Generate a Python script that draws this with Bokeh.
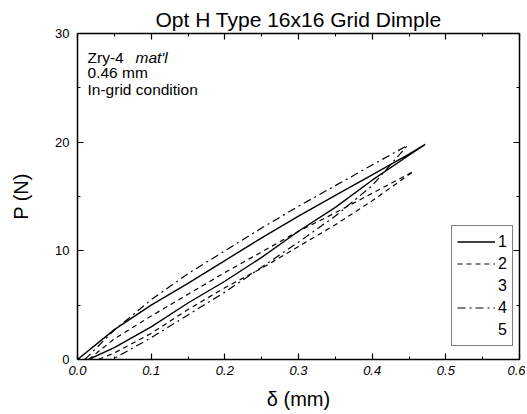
from bokeh.plotting import figure
from bokeh.models import (Range1d, LinearAxis, FixedTicker, PrintfTickFormatter,
                          CustomJSTickFormatter, Legend, LegendItem, Label)
from bokeh.embed import file_html
from bokeh.resources import INLINE

# ---- data ----
s1_x_up = [0.0, 0.05, 0.1, 0.15, 0.2, 0.25, 0.3, 0.35, 0.4, 0.45, 0.472]
s1_p_up = [0.0, 2.75, 5.0, 7.0, 9.1, 11.2, 13.2, 15.1, 17.0, 18.9, 19.8]
s1_x_dn = [0.472, 0.45, 0.4, 0.35, 0.3, 0.25, 0.2, 0.15, 0.1, 0.05, 0.015]
s1_p_dn = [19.8, 18.8, 16.5, 14.0, 11.8, 9.4, 7.2, 5.2, 3.0, 1.1, 0.0]

s2_x_up = [0.015, 0.05, 0.1, 0.15, 0.2, 0.25, 0.3, 0.35, 0.4, 0.456]
s2_p_up = [0.0, 1.9, 4.0, 6.0, 8.0, 9.9, 11.8, 13.5, 15.3, 17.3]
s2_x_dn = [0.456, 0.4, 0.35, 0.3, 0.25, 0.2, 0.15, 0.1, 0.05, 0.028]
s2_p_dn = [17.3, 14.6, 12.4, 10.4, 8.4, 6.6, 4.6, 2.4, 0.6, 0.0]

s4_x_up = [0.01, 0.05, 0.1, 0.15, 0.2, 0.25, 0.3, 0.35, 0.4, 0.448]
s4_p_up = [0.0, 2.7, 5.5, 7.9, 10.0, 12.1, 14.1, 16.0, 17.9, 19.7]
s4_x_dn = [0.448, 0.4, 0.35, 0.3, 0.25, 0.2, 0.15, 0.1, 0.047]
s4_p_dn = [19.7, 16.0, 13.2, 10.8, 8.5, 6.2, 4.1, 2.0, 0.0]

legend_labels = ["1", "2", "3", "4", "5"]
x_major_ticks = [0.0, 0.1, 0.2, 0.3, 0.4, 0.5, 0.6]
x_minor_ticks = [0.05, 0.15, 0.25, 0.35, 0.45, 0.55]
y_major_ticks = [0, 10, 20, 30]
y_minor_ticks = [5, 15, 25]

FONT = "Liberation Sans"

p = figure(width=525, height=412, x_range=Range1d(0, 0.6), y_range=Range1d(0, 30),
           output_backend="svg", toolbar_location=None,
           min_border_left=77, min_border_right=6, min_border_top=33, min_border_bottom=53,
           title="Opt H Type 16x16 Grid Dimple")
p.grid.visible = False
p.outline_line_color = None
p.background_fill_color = "white"
p.border_fill_color = "white"

p.title.align = "center"
p.title.text_font = FONT
p.title.text_font_size = "21px"
p.title.text_font_style = "normal"
p.title.text_color = "black"
p.title.standoff = 6

def style_axis(ax):
    ax.axis_line_color = "black"
    ax.axis_line_width = 1.5
    ax.major_tick_line_color = "black"
    ax.minor_tick_line_color = "black"
    ax.major_tick_line_width = 1.2
    ax.minor_tick_line_width = 1.0
    ax.major_tick_in = 6
    ax.major_tick_out = 0
    ax.minor_tick_in = 3
    ax.minor_tick_out = 0
    ax.major_label_text_font = FONT
    ax.major_label_text_font_size = "13px"
    ax.major_label_text_color = "black"
    ax.axis_label_text_font = FONT
    ax.axis_label_text_font_style = "normal"
    ax.axis_label_text_font_size = "20px"
    ax.axis_label_text_color = "black"

def xticker():
    return FixedTicker(ticks=x_major_ticks, minor_ticks=x_minor_ticks)

def yticker():
    return FixedTicker(ticks=y_major_ticks, minor_ticks=y_minor_ticks)

xa = p.xaxis[0]
xa.ticker = xticker()
xa.formatter = PrintfTickFormatter(format="%.1f")
xa.axis_label = "δ (mm)"
style_axis(xa)
xa.major_label_text_font_style = "italic"
xa.major_label_standoff = 6
xa.axis_label_standoff = 10

ya = p.yaxis[0]
ya.ticker = yticker()
ya.axis_label = "P (N)"
style_axis(ya)
ya.major_label_standoff = 8
ya.axis_label_standoff = 20

blank = CustomJSTickFormatter(code="return ''")

top = LinearAxis(ticker=xticker(), formatter=blank)
style_axis(top)
top.major_label_standoff = 0
p.add_layout(top, "above")

right = LinearAxis(ticker=yticker(), formatter=blank)
style_axis(right)
right.major_label_standoff = 0
p.add_layout(right, "right")

r1 = p.line(s1_x_up + s1_x_dn, s1_p_up + s1_p_dn, line_color="black", line_width=1.4)
r2 = p.line(s2_x_up + s2_x_dn, s2_p_up + s2_p_dn, line_color="black", line_width=1.2,
            line_dash="5 4")
r3 = p.line([], [], line_color="black", line_alpha=0)
r4 = p.line(s4_x_up + s4_x_dn, s4_p_up + s4_p_dn, line_color="black", line_width=1.2,
            line_dash="8 4 2 4")
r5 = p.line([], [], line_color="black", line_alpha=0)

legend = Legend(items=[LegendItem(label=l, renderers=[r]) for l, r in
                       zip(legend_labels, [r1, r2, r3, r4, r5])],
                location=(374, 13))
legend.border_line_color = "black"
legend.border_line_width = 1.2
legend.padding = 5
legend.spacing = 1
legend.margin = 0
legend.glyph_width = 38
legend.glyph_height = 21
legend.label_height = 21
legend.label_width = 8
legend.label_standoff = 3
legend.label_text_font = FONT
legend.label_text_font_size = "16px"
legend.label_text_color = "black"
legend.background_fill_alpha = 1
p.add_layout(legend)

ann_font = "15.5px"
p.add_layout(Label(x=0.0136, y=27.0, text="Zry-4", text_font=FONT, text_font_size=ann_font,
                   text_color="black"))
p.add_layout(Label(x=0.0787, y=27.0, text="mat'l", text_font=FONT, text_font_size=ann_font,
                   text_font_style="italic", text_color="black"))
p.add_layout(Label(x=0.0136, y=25.6, text="0.46 mm", text_font=FONT, text_font_size=ann_font,
                   text_color="black"))
p.add_layout(Label(x=0.0136, y=24.1, text="In-grid condition", text_font=FONT,
                   text_font_size=ann_font, text_color="black"))

open("out.html", "w").write(file_html(p, INLINE))
